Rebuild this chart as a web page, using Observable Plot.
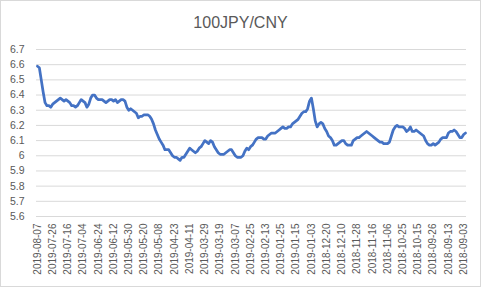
<!DOCTYPE html>
<html><head><meta charset="utf-8">
<script src="https://cdn.jsdelivr.net/npm/d3@7"></script>
<script src="https://cdn.jsdelivr.net/npm/@observablehq/plot@0.6"></script>
<style>
body{margin:0;background:#fff;}
#wrap{position:relative;width:481px;height:289px;overflow:hidden;font-family:"Liberation Sans",Arial,sans-serif;background:#fff;}
#title{position:absolute;left:0;width:481px;top:13px;text-align:center;font-size:16px;color:#595959;line-height:20px;}
#frame{position:absolute;left:0;top:0;width:479px;height:285px;border:1px solid #d9d9d9;pointer-events:none;}
#chart svg{display:block;}
</style></head><body>
<div id="wrap"><div id="chart"></div><div id="title">100JPY/CNY</div><div id="frame"></div></div>
<script>
const tickLabels = ["2019-08-07","2019-07-26","2019-07-16","2019-07-04","2019-06-24","2019-06-12","2019-05-30","2019-05-20","2019-05-08","2019-04-23","2019-04-11","2019-03-29","2019-03-19","2019-03-07","2019-02-25","2019-02-13","2019-01-25","2019-01-15","2019-01-03","2018-12-20","2018-12-10","2018-11-28","2018-11-16","2018-11-06","2018-10-25","2018-10-15","2018-09-26","2018-09-13","2018-09-03"];
const rates = [
6.59,6.58,6.50,6.42,6.35,6.33,6.33,6.32,
6.34,6.35,6.36,6.37,6.38,6.37,6.36,6.37,
6.36,6.35,6.33,6.33,6.32,6.33,6.35,6.37,
6.36,6.35,6.32,6.34,6.38,6.40,6.40,6.38,
6.37,6.37,6.37,6.36,6.35,6.36,6.37,6.37,
6.36,6.37,6.35,6.36,6.37,6.37,6.36,6.32,
6.30,6.31,6.30,6.29,6.28,6.25,6.26,6.26,
6.27,6.27,6.27,6.26,6.24,6.21,6.17,6.14,
6.11,6.09,6.07,6.04,6.04,6.04,6.02,6.00,
5.99,5.99,5.98,5.97,5.99,5.99,6.01,6.03,
6.05,6.04,6.03,6.02,6.03,6.05,6.06,6.08,
6.10,6.09,6.08,6.10,6.09,6.06,6.04,6.02,
6.01,6.01,6.01,6.02,6.03,6.04,6.04,6.02,
6.00,5.99,5.99,5.99,6.00,6.03,6.05,6.04,
6.06,6.07,6.09,6.11,6.12,6.12,6.12,6.11,
6.11,6.13,6.14,6.15,6.15,6.15,6.16,6.17,
6.18,6.19,6.18,6.18,6.19,6.19,6.21,6.22,
6.23,6.24,6.26,6.28,6.29,6.29,6.31,6.36,
6.38,6.31,6.23,6.19,6.21,6.22,6.21,6.18,
6.16,6.13,6.12,6.10,6.07,6.07,6.08,6.09,
6.10,6.10,6.08,6.07,6.07,6.07,6.10,6.11,
6.12,6.12,6.13,6.14,6.15,6.16,6.15,6.14,
6.13,6.12,6.11,6.10,6.09,6.09,6.08,6.08,
6.08,6.09,6.13,6.17,6.19,6.20,6.19,6.19,
6.19,6.18,6.16,6.17,6.19,6.16,6.16,6.17,
6.16,6.15,6.14,6.13,6.10,6.08,6.07,6.07,
6.08,6.07,6.08,6.09,6.11,6.12,6.12,6.12,
6.15,6.16,6.16,6.17,6.16,6.14,6.12,6.12,
6.14,6.15];
const yTicks = [5.6,5.7,5.8,5.9,6.0,6.1,6.2,6.3,6.4,6.5,6.6,6.7];
const labelEvery = 8;

const data = rates.map((v, i) => ({i, v}));
const tickIdx = tickLabels.map((_, k) => k * labelEvery);

const chart = Plot.plot({
  width: 481, height: 289,
  marginLeft: 36, marginRight: 15, marginTop: 49, marginBottom: 73,
  style: {fontFamily: "'Liberation Sans', Arial, sans-serif", color: "#595959", background: "transparent"},
  x: {type: "point", domain: d3.range(rates.length), padding: 0.5, axis: null},
  y: {domain: [5.6, 6.7], axis: null},
  marks: [
    Plot.ruleY(yTicks, {stroke: "#d9d9d9", strokeWidth: 1}),
    Plot.axisY(yTicks, {label: null, tickSize: 0, tickPadding: 12, fontSize: 10.5, tickFormat: d => d.toFixed(1).replace(/\.0$/, "")}),
    Plot.axisX(tickIdx, {label: null, tickSize: 0, tickPadding: 7, tickRotate: -90, fontSize: 10, tickFormat: i => tickLabels[i / labelEvery]}),
    Plot.line(data, {x: "i", y: "v", stroke: "#4472C4", strokeWidth: 2.75, strokeLinejoin: "round", strokeLinecap: "round"})
  ]
});
document.getElementById("chart").appendChild(chart);
</script>
</body></html>
